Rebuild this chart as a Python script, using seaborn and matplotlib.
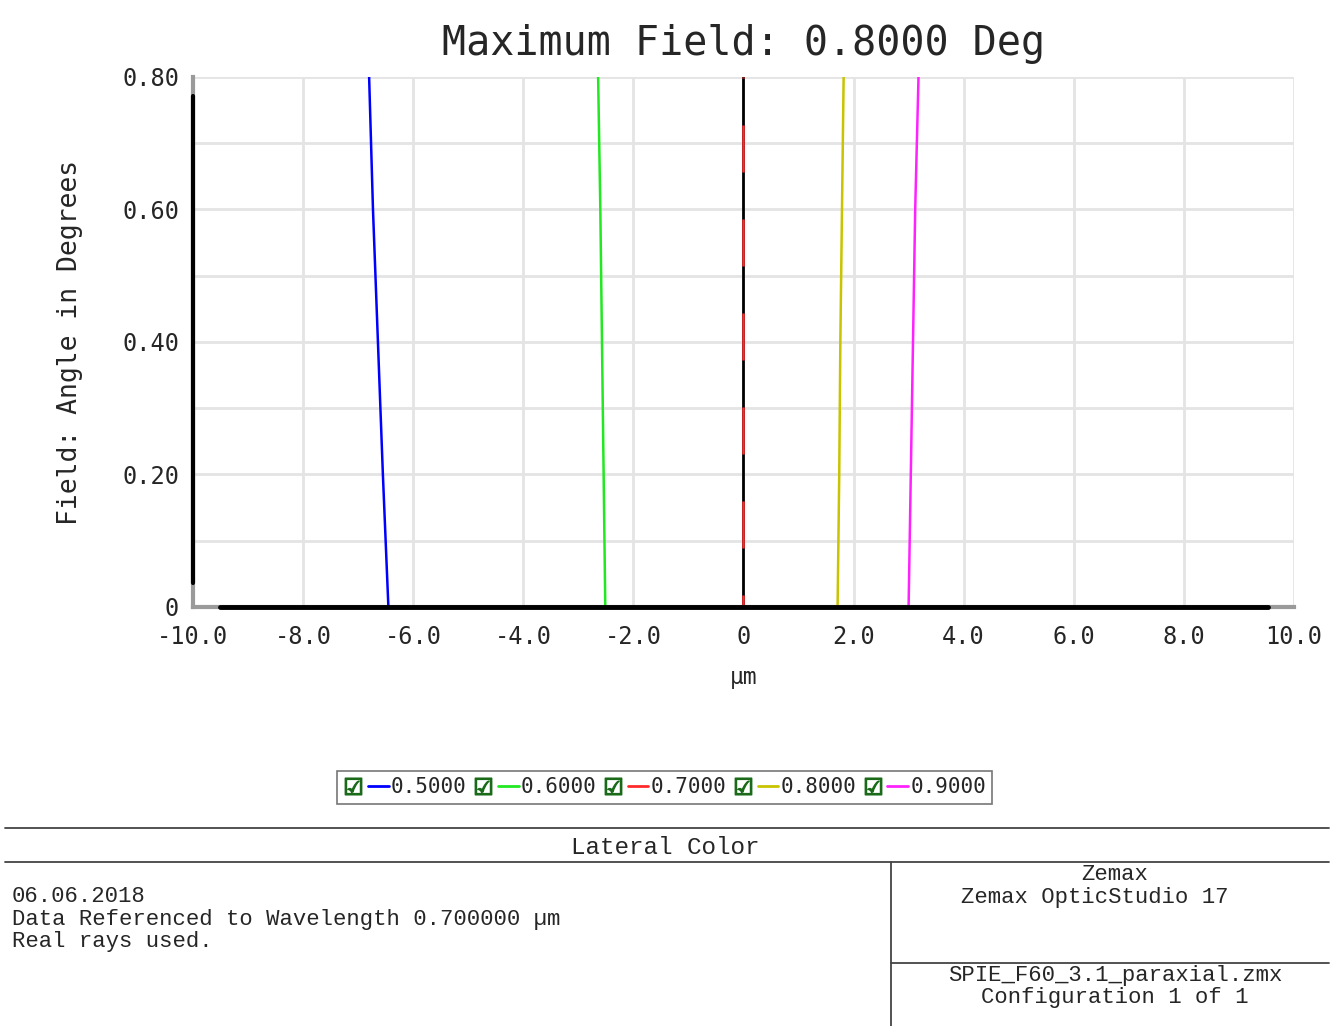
import numpy as np
import pandas as pd
import seaborn as sns
import matplotlib.pyplot as plt
from matplotlib.lines import Line2D
from matplotlib.legend_handler import HandlerTuple

# field angle (deg) and lateral colour (um) per wavelength
field = [0.0, 0.2, 0.4, 0.6, 0.8]
lat_05 = [-6.45, -6.55, -6.64, -6.73, -6.80]
lat_06 = [-2.51, -2.54, -2.57, -2.60, -2.64]
lat_07 = [0.0, 0.0, 0.0, 0.0, 0.0]
lat_08 = [1.71, 1.74, 1.76, 1.79, 1.82]
lat_09 = [3.00, 3.04, 3.08, 3.12, 3.18]
wave_labels = ["0.5000", "0.6000", "0.7000", "0.8000", "0.9000"]
wave_colors = ["#0000ff", "#22e822", "#ff2a2a", "#c8c400", "#ff22ff"]

x_ticks = [-10, -8, -6, -4, -2, 0, 2, 4, 6, 8, 10]
x_ticklabels = ["-10.0", "-8.0", "-6.0", "-4.0", "-2.0", "0", "2.0", "4.0", "6.0", "8.0", "10.0"]
y_ticks = [0, 0.2, 0.4, 0.6, 0.8]
y_ticklabels = ["0", "0.20", "0.40", "0.60", "0.80"]

rows = []
for lab, vals in zip(wave_labels, [lat_05, lat_06, lat_07, lat_08, lat_09]):
    for f, v in zip(field, vals):
        rows.append({"wave": lab, "field": f, "lateral": v})
df = pd.DataFrame(rows)

sns.set_style("white")
mono = "DejaVu Sans Mono"
plt.rcParams['font.family'] = [mono, 'DejaVu Sans']

fig = plt.figure(figsize=(13.41, 10.26), dpi=100)
ax = fig.add_axes([0.1439, 0.4084, 0.821, 0.5166])

# zero line behind the reference wavelength
ax.axvline(0, color="black", lw=2, zorder=1)

sns.lineplot(data=df, x="lateral", y="field", hue="wave", palette=wave_colors,
             sort=False, estimator=None, orient="y", lw=1.8, legend=False, ax=ax, zorder=3)
ax.lines[-3].set_linestyle((14, (18.8, 18.8)))

ax.set_xlim(-10, 10)
ax.set_ylim(0, 0.8)
ax.set_xticks(x_ticks)
ax.set_xticklabels(x_ticklabels)
ax.set_yticks(y_ticks)
ax.set_yticklabels(y_ticklabels)
ax.set_yticks(np.arange(0, 0.81, 0.1), minor=True)
ax.tick_params(length=0, labelsize=17, pad=13)
ax.tick_params(axis='y', pad=10)
ax.grid(True, which="both", color="#e4e4e4", lw=2)
ax.set_axisbelow(True)

for s in ["top", "right"]:
    ax.spines[s].set_visible(False)
for s in ["left", "bottom"]:
    ax.spines[s].set_color("#9a9a9a")
    ax.spines[s].set_linewidth(3)
ax.axvline(-10, ymin=0.045, ymax=0.964, color="black", lw=3, clip_on=False, zorder=4)
ax.axhline(0, xmin=0.025, xmax=0.976, color="black", lw=3.5, clip_on=False, zorder=4)

ax.set_title("Maximum Field: 0.8000 Deg", fontsize=28.8, pad=16)
ax.set_xlabel("µm", fontsize=16.5, labelpad=12)
ax.set_ylabel("Field: Angle in Degrees", fontsize=19, labelpad=28)

# legend with check boxes
handles = []
for c in wave_colors:
    box = Line2D([], [], marker="$\u2611$", color="#1a6a1a", ls="none", markersize=12)
    ln = Line2D([], [], color=c, lw=2)
    handles.append((box, ln))
leg = fig.legend(handles, wave_labels, ncol=5, loc="center", bbox_to_anchor=(0.4955, 0.2325),
                 handler_map={tuple: HandlerTuple(ndivide=2, pad=0.2)},
                 handlelength=2.2, handletextpad=0.1, columnspacing=0.3,
                 fontsize=15, frameon=True, fancybox=False, borderpad=0.3)
leg.get_frame().set_edgecolor("#555555")
leg.get_frame().set_linewidth(1.2)

# footer panel
def fline(x0, x1, y0, y1):
    fig.add_artist(Line2D([x0 / 1341, x1 / 1341], [1 - y0 / 1026, 1 - y1 / 1026],
                          color="#444444", lw=1.3))

fline(5, 1329, 828, 828)
fline(5, 1329, 862, 862)
fline(891, 891, 862, 1026)
fline(891, 1329, 963, 963)

foot = "Liberation Mono"
def ftext(x, y, s, ha="left", size=16):
    fig.text(x / 1341, 1 - y / 1026, s, ha=ha, va="center", fontsize=size,
             family=[foot, "DejaVu Sans Mono"])

ftext(665, 848, "Lateral Color", ha="center", size=17.5)
ftext(12, 897, "06.06.2018")
ftext(12, 919, "Data Referenced to Wavelength 0.700000 µm")
ftext(12, 941, "Real rays used.")
ftext(1115, 875, "Zemax", ha="center")
ftext(1095, 897, "Zemax OpticStudio 17", ha="center")
ftext(1115, 975, "SPIE_F60_3.1_paraxial.zmx", ha="center")
ftext(1115, 997, "Configuration 1 of 1", ha="center")

fig.savefig("out.png", dpi=100, facecolor="white")
